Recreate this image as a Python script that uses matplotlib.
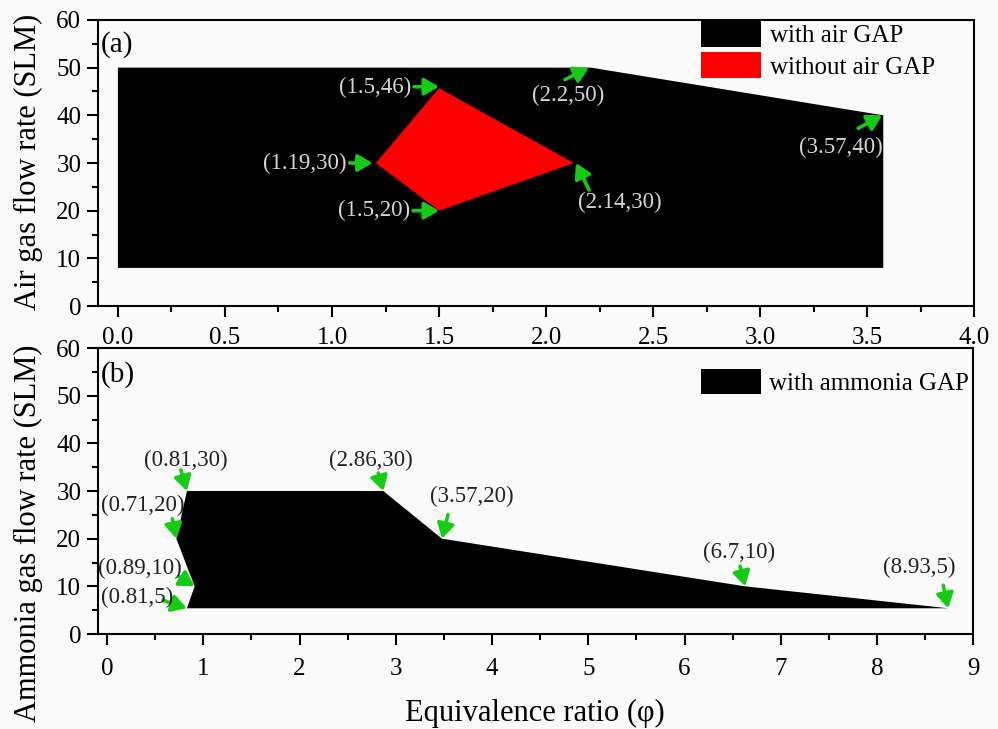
import matplotlib
matplotlib.use("Agg")
from matplotlib import pyplot as plt
from matplotlib.ticker import MultipleLocator

plt.rcParams['font.family'] = ['Liberation Serif', 'DejaVu Serif']

# (a) air GAP region and the region without air GAP
air_gap_phi = [0.0, 0.0, 2.21, 3.575, 3.575]
air_gap_flow = [8, 50, 50, 40, 8]
no_gap_phi = [1.205, 1.5, 2.13, 1.5]
no_gap_flow = [30, 45.7, 30, 20]
top_labels = ["(1.5,46)", "(1.19,30)", "(1.5,20)", "(2.2,50)", "(2.14,30)", "(3.57,40)"]
top_pt_phi = [1.5, 1.19, 1.5, 2.2, 2.14, 3.57]
top_pt_flow = [46, 30, 20, 50, 30, 40]

# (b) ammonia GAP region
ammonia_phi = [0.83, 0.91, 0.72, 0.83, 2.87, 3.48, 6.63, 8.74]
ammonia_flow = [5.4, 10, 20, 30, 30, 20, 10, 5.4]
bot_labels = ["(0.81,5)", "(0.89,10)", "(0.71,20)", "(0.81,30)",
              "(2.86,30)", "(3.57,20)", "(6.7,10)", "(8.93,5)"]

# layout: arrow tail / text centre offsets in pixels from each point
top_tail = [(-25, 0), (-23, 0), (-26, 0), (-24, -12), (13, -27), (-24, -13)]
top_text = [(-64, -1), (-68, 0), (-65, 0), (-21, -28), (44, -39), (-41, -32)]
bot_tail = [(-24, 8), (-16, 10), (-4, 20), (-6, 21), (-5, 18), (6, 24), (-5, 20), (-5, 23)]
bot_text = [(-50, 11), (-55, 18), (-34, 33), (-1, 31), (-12, 31), (30, 42), (-6, 34), (-29, 41)]

green = '#14cc14'
bg = '#fafafa'
arrow = dict(arrowstyle='-|>,head_length=0.55,head_width=0.32', color=green,
             lw=2.6, mutation_scale=16, shrinkA=0, shrinkB=0)

fig = plt.figure(figsize=(9.98, 7.29), dpi=100, facecolor=bg)
ax1 = fig.add_axes([0.0982, 0.5802, 0.878, 0.3924], facecolor=bg)
ax2 = fig.add_axes([0.0982, 0.1303, 0.877, 0.3923], facecolor=bg)

def style(ax, xmaj, xmin, pad):
    for s in ax.spines.values():
        s.set_linewidth(1.5)
    ax.yaxis.set_major_locator(MultipleLocator(10))
    ax.yaxis.set_minor_locator(MultipleLocator(5))
    ax.xaxis.set_major_locator(MultipleLocator(xmaj))
    ax.xaxis.set_minor_locator(MultipleLocator(xmin))
    ax.tick_params(which='major', direction='out', length=8, width=1.5, labelsize=18)
    ax.tick_params(which='minor', direction='out', length=4.5, width=1.5)
    ax.tick_params(axis='x', pad=pad)
    ax.tick_params(axis='y', pad=4)
    ax.set_ylim(0, 60)

# panel (a)
ax1.fill(air_gap_phi, air_gap_flow, color='black', lw=0, label='with air GAP')
ax1.fill(no_gap_phi, no_gap_flow, color='#ff0000', lw=0, label='without air GAP')
ax1.set_xlim(-0.093, 4.0)
style(ax1, 0.5, 0.25, 7)
for i, lab in enumerate(top_labels):
    p = (top_pt_phi[i], top_pt_flow[i])
    ax1.annotate('', xy=p, xytext=top_tail[i], textcoords='offset pixels', arrowprops=arrow)
    ax1.annotate(lab, xy=p, xytext=top_text[i], textcoords='offset pixels',
                 ha='center', va='center', fontsize=16.5, color='#d6d6d6')
ax1.text(0.003, 0.913, '(a)', transform=ax1.transAxes, fontsize=21, va='center')
ax1.legend(loc='upper left', bbox_to_anchor=(0.687, 1.0), frameon=False, fontsize=18,
           handlelength=2.4, handleheight=1.2, handletextpad=0.35, labelspacing=0.2,
           borderpad=0.05, borderaxespad=0)

# panel (b)
ax2.fill(ammonia_phi, ammonia_flow, color='black', lw=0, label='with ammonia GAP')
ax2.set_xlim(-0.094, 9.0)
style(ax2, 1, 0.5, 9)
for i, lab in enumerate(bot_labels):
    p = (ammonia_phi[i], ammonia_flow[i])
    ax2.annotate('', xy=p, xytext=bot_tail[i], textcoords='offset pixels', arrowprops=arrow)
    ax2.annotate(lab, xy=p, xytext=bot_text[i], textcoords='offset pixels',
                 ha='center', va='center', fontsize=16.5, color='#222222')
ax2.text(0.003, 0.906, '(b)', transform=ax2.transAxes, fontsize=21, va='center')
ax2.legend(loc='upper left', bbox_to_anchor=(0.687, 0.93), frameon=False, fontsize=18,
           handlelength=2.4, handleheight=1.15, handletextpad=0.35,
           borderpad=0.05, borderaxespad=0)

fig.text(0.029, 1 - 162 / 729, 'Air gas flow rate (SLM)', rotation=90,
         ha='center', va='center', fontsize=22)
fig.text(0.029, 1 - 533 / 729, 'Ammonia gas flow rate (SLM)', rotation=90,
         ha='center', va='center', fontsize=22)
fig.text(535 / 998, 1 - 713 / 729, 'Equivalence ratio (\u03c6)',
         ha='center', va='center', fontsize=22)

fig.savefig("out.png", dpi=100, facecolor=bg)
